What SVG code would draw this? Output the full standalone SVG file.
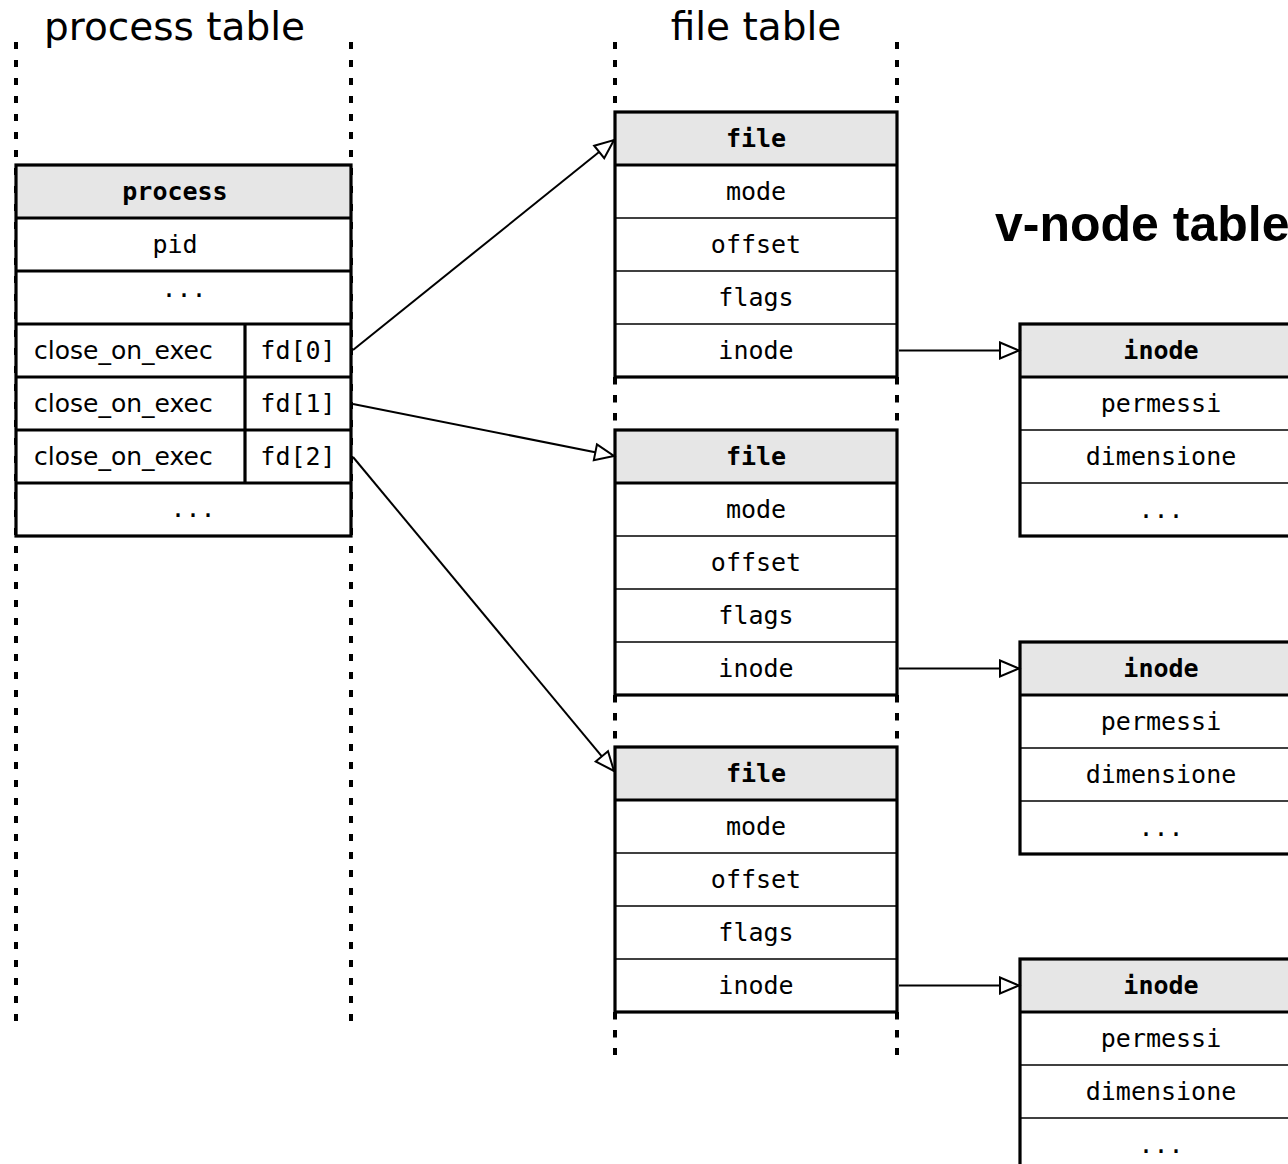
<svg xmlns="http://www.w3.org/2000/svg" width="1288" height="1164" viewBox="0 0 1288 1164">
<style>
.bg{fill:#ffffff}
.dot{stroke:#000;stroke-width:4;stroke-dasharray:7 11;fill:none}
.dot2{stroke:#000;stroke-width:4;stroke-dasharray:7.5 10.5;fill:none}
.hdr{fill:#e6e6e6;stroke:none}
.row{fill:#ffffff;stroke:none}
.out{fill:none;stroke:#000;stroke-width:3.2}
.thick{stroke:#000;stroke-width:3.2}
.thin{stroke:#000;stroke-width:1.5}
.mono{font-family:"DejaVu Sans Mono","Liberation Mono",monospace;font-size:25px;fill:#000}
.monob{font-family:"DejaVu Sans Mono","Liberation Mono",monospace;font-size:25px;font-weight:bold;fill:#000}
.sans{font-family:"DejaVu Sans","Liberation Sans",sans-serif;font-size:25px;fill:#000}
.title{font-family:"DejaVu Sans","Liberation Sans",sans-serif;font-size:39px;fill:#000}
.vtitle{font-family:"Liberation Sans",Arial,sans-serif;font-size:50px;font-weight:bold;fill:#000}
.c{text-anchor:middle}
.conn{stroke:#000;stroke-width:2;fill:none}
</style>
<defs>
<marker id="tri" markerWidth="24" markerHeight="22" refX="21" refY="10" orient="auto" markerUnits="userSpaceOnUse">
<path d="M2,2 L21,10 L2,18 z" fill="#fff" stroke="#000" stroke-width="2"/>
</marker>
</defs>
<rect class="bg" x="0" y="0" width="1288" height="1164"/>

<g id="titles">
<text class="title" x="44" y="40">process table</text>
<text class="title c" x="756" y="40">file table</text>
<text class="vtitle" x="995" y="241">v-node table</text>
</g>

<g id="guides">
<line class="dot" x1="16" y1="42" x2="16" y2="1021"/>
<line class="dot" x1="351" y1="42" x2="351" y2="1021"/>
<line class="dot" x1="615" y1="42" x2="615" y2="112"/>
<line class="dot" x1="897" y1="42" x2="897" y2="112"/>
<line class="dot2" x1="615" y1="377" x2="615" y2="430"/>
<line class="dot2" x1="897" y1="377" x2="897" y2="430"/>
<line class="dot2" x1="615" y1="695" x2="615" y2="747"/>
<line class="dot2" x1="897" y1="695" x2="897" y2="747"/>
<line class="dot2" x1="615" y1="1012" x2="615" y2="1055"/>
<line class="dot2" x1="897" y1="1012" x2="897" y2="1055"/>
</g>

<g id="process">
<rect class="hdr" x="16" y="165" width="335" height="53"/>
<rect class="row" x="16" y="218" width="335" height="318"/>
<line class="thick" x1="16" y1="218" x2="351" y2="218"/>
<line class="thick" x1="16" y1="271" x2="351" y2="271"/>
<line class="thick" x1="16" y1="324" x2="351" y2="324"/>
<line class="thick" x1="16" y1="377" x2="351" y2="377"/>
<line class="thick" x1="16" y1="430" x2="351" y2="430"/>
<line class="thick" x1="16" y1="483" x2="351" y2="483"/>
<line class="thick" x1="245" y1="324" x2="245" y2="483"/>
<rect class="out" x="16" y="165" width="335" height="371"/>
<text class="monob c" x="175" y="200">process</text>
<text class="mono c" x="175" y="253">pid</text>
<text class="mono c" x="184" y="297">...</text>
<text class="sans" x="34" y="359">close_on_exec</text>
<text class="mono c" x="298" y="359">fd[0]</text>
<text class="sans" x="34" y="412">close_on_exec</text>
<text class="mono c" x="298" y="412">fd[1]</text>
<text class="sans" x="34" y="465">close_on_exec</text>
<text class="mono c" x="298" y="465">fd[2]</text>
<text class="mono c" x="193" y="517">...</text>
</g>

<g id="file1">
<rect class="hdr" x="615" y="112" width="282" height="53"/>
<rect class="row" x="615" y="165" width="282" height="212"/>
<line class="thick" x1="615" y1="165" x2="897" y2="165"/>
<line class="thin" x1="615" y1="218" x2="897" y2="218"/>
<line class="thin" x1="615" y1="271" x2="897" y2="271"/>
<line class="thin" x1="615" y1="324" x2="897" y2="324"/>
<rect class="out" x="615" y="112" width="282" height="265"/>
<text class="monob c" x="756" y="147">file</text>
<text class="mono c" x="756" y="200">mode</text>
<text class="mono c" x="756" y="253">offset</text>
<text class="mono c" x="756" y="306">flags</text>
<text class="mono c" x="756" y="359">inode</text>
</g>

<g id="file2">
<rect class="hdr" x="615" y="430" width="282" height="53"/>
<rect class="row" x="615" y="483" width="282" height="212"/>
<line class="thick" x1="615" y1="483" x2="897" y2="483"/>
<line class="thin" x1="615" y1="536" x2="897" y2="536"/>
<line class="thin" x1="615" y1="589" x2="897" y2="589"/>
<line class="thin" x1="615" y1="642" x2="897" y2="642"/>
<rect class="out" x="615" y="430" width="282" height="265"/>
<text class="monob c" x="756" y="465">file</text>
<text class="mono c" x="756" y="518">mode</text>
<text class="mono c" x="756" y="571">offset</text>
<text class="mono c" x="756" y="624">flags</text>
<text class="mono c" x="756" y="677">inode</text>
</g>

<g id="file3">
<rect class="hdr" x="615" y="747" width="282" height="53"/>
<rect class="row" x="615" y="800" width="282" height="212"/>
<line class="thick" x1="615" y1="800" x2="897" y2="800"/>
<line class="thin" x1="615" y1="853" x2="897" y2="853"/>
<line class="thin" x1="615" y1="906" x2="897" y2="906"/>
<line class="thin" x1="615" y1="959" x2="897" y2="959"/>
<rect class="out" x="615" y="747" width="282" height="265"/>
<text class="monob c" x="756" y="782">file</text>
<text class="mono c" x="756" y="835">mode</text>
<text class="mono c" x="756" y="888">offset</text>
<text class="mono c" x="756" y="941">flags</text>
<text class="mono c" x="756" y="994">inode</text>
</g>

<g id="vnode1">
<rect class="hdr" x="1020" y="324" width="282" height="53"/>
<rect class="row" x="1020" y="377" width="282" height="159"/>
<line class="thick" x1="1020" y1="377" x2="1302" y2="377"/>
<line class="thin" x1="1020" y1="430" x2="1302" y2="430"/>
<line class="thin" x1="1020" y1="483" x2="1302" y2="483"/>
<rect class="out" x="1020" y="324" width="282" height="212"/>
<text class="monob c" x="1161" y="359">inode</text>
<text class="mono c" x="1161" y="412">permessi</text>
<text class="mono c" x="1161" y="465">dimensione</text>
<text class="mono c" x="1161" y="518">...</text>
</g>

<g id="vnode2">
<rect class="hdr" x="1020" y="642" width="282" height="53"/>
<rect class="row" x="1020" y="695" width="282" height="159"/>
<line class="thick" x1="1020" y1="695" x2="1302" y2="695"/>
<line class="thin" x1="1020" y1="748" x2="1302" y2="748"/>
<line class="thin" x1="1020" y1="801" x2="1302" y2="801"/>
<rect class="out" x="1020" y="642" width="282" height="212"/>
<text class="monob c" x="1161" y="677">inode</text>
<text class="mono c" x="1161" y="730">permessi</text>
<text class="mono c" x="1161" y="783">dimensione</text>
<text class="mono c" x="1161" y="836">...</text>
</g>

<g id="vnode3">
<rect class="hdr" x="1020" y="959" width="282" height="53"/>
<rect class="row" x="1020" y="1012" width="282" height="159"/>
<line class="thick" x1="1020" y1="1012" x2="1302" y2="1012"/>
<line class="thin" x1="1020" y1="1065" x2="1302" y2="1065"/>
<line class="thin" x1="1020" y1="1118" x2="1302" y2="1118"/>
<rect class="out" x="1020" y="959" width="282" height="212"/>
<text class="monob c" x="1161" y="994">inode</text>
<text class="mono c" x="1161" y="1047">permessi</text>
<text class="mono c" x="1161" y="1100">dimensione</text>
<text class="mono c" x="1161" y="1153">...</text>
</g>

<g id="connectors">
<line class="conn" x1="353" y1="350" x2="614" y2="140" marker-end="url(#tri)"/>
<line class="conn" x1="353" y1="404" x2="614" y2="456" marker-end="url(#tri)"/>
<line class="conn" x1="353" y1="457" x2="614" y2="771" marker-end="url(#tri)"/>
<line class="conn" x1="899" y1="350.5" x2="1019" y2="350.5" marker-end="url(#tri)"/>
<line class="conn" x1="899" y1="668.5" x2="1019" y2="668.5" marker-end="url(#tri)"/>
<line class="conn" x1="899" y1="985.5" x2="1019" y2="985.5" marker-end="url(#tri)"/>
</g>
</svg>
